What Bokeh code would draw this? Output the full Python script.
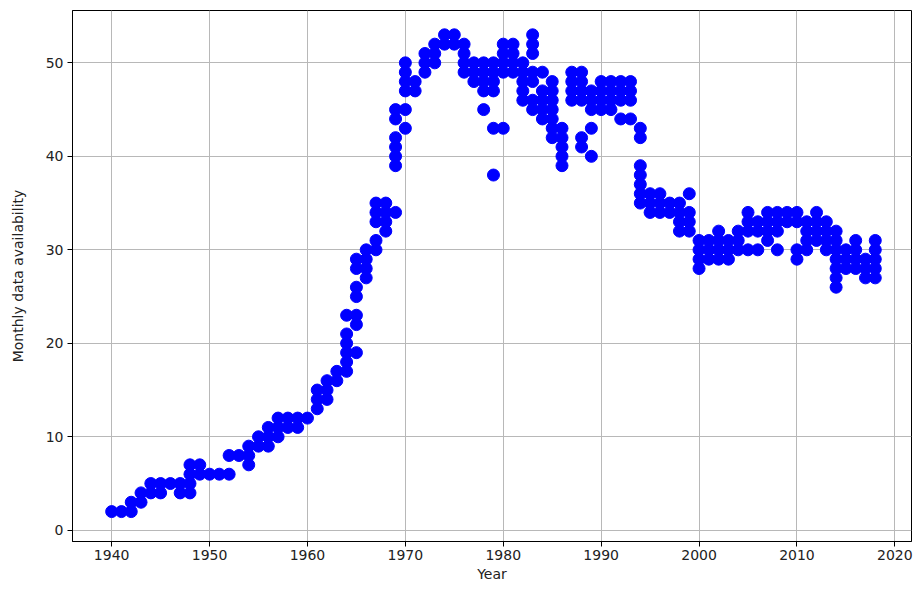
from bokeh.plotting import figure
from bokeh.models import FixedTicker, ColumnDataSource, Range1d
from bokeh.embed import file_html
from bokeh.resources import INLINE

years = [1940, 1941, 1942, 1943, 1944, 1945, 1946, 1947, 1948, 1949,
         1950, 1951, 1952, 1953, 1954, 1955, 1956, 1957, 1958, 1959,
         1960, 1961, 1962, 1963, 1964, 1965, 1966, 1967, 1968, 1969,
         1970, 1971, 1972, 1973, 1974, 1975, 1976, 1977, 1978, 1979,
         1980, 1981, 1982, 1983, 1984, 1985, 1986, 1987, 1988, 1989,
         1990, 1991, 1992, 1993, 1994, 1995, 1996, 1997, 1998, 1999,
         2000, 2001, 2002, 2003, 2004, 2005, 2006, 2007, 2008, 2009,
         2010, 2011, 2012, 2013, 2014, 2015, 2016, 2017, 2018]

values_by_year = [
    [2], [2], [2, 3], [3, 4], [4, 5], [4, 5], [5], [4, 5], [4, 5, 6, 7], [6, 7],
    [6], [6], [6, 8], [8], [7, 8, 9], [9, 10], [9, 10, 11], [10, 11, 12], [11, 12], [11, 12],
    [12], [13, 14, 15], [14, 15, 16], [16, 17], [17, 18, 19, 20, 21, 23],
    [19, 22, 23, 25, 26, 28, 29], [27, 28, 29, 30], [30, 31, 33, 34, 35], [32, 33, 34, 35],
    [34, 39, 40, 41, 42, 44, 45],
    [43, 45, 47, 48, 49, 50], [47, 48], [49, 50, 51], [50, 51, 52], [52, 53], [52, 53],
    [49, 50, 51, 52], [48, 49, 50], [45, 47, 48, 49, 50], [38, 43, 47, 48, 49, 50],
    [43, 49, 50, 51, 52], [49, 50, 51, 52], [46, 47, 48, 49, 50],
    [45, 46, 48, 49, 51, 52, 53], [44, 45, 46, 47, 49], [42, 43, 44, 45, 46, 47, 48],
    [39, 40, 41, 42, 43], [46, 47, 48, 49], [41, 42, 46, 47, 48, 49], [40, 43, 45, 46, 47],
    [45, 46, 47, 48], [45, 46, 47, 48], [44, 46, 47, 48], [44, 46, 47, 48],
    [35, 36, 37, 38, 39, 42, 43], [34, 35, 36], [34, 35, 36], [34, 35], [32, 33, 34, 35],
    [32, 33, 34, 36],
    [28, 29, 30, 31], [29, 30, 31], [29, 30, 31, 32], [29, 30, 31], [30, 31, 32],
    [30, 32, 33, 34], [30, 32, 33], [31, 32, 33, 34], [30, 32, 33, 34], [33, 34],
    [29, 30, 33, 34], [30, 31, 32, 33], [31, 32, 33, 34], [30, 31, 32, 33],
    [26, 27, 28, 29, 30, 31, 32], [28, 29, 30], [28, 29, 30, 31], [27, 28, 29],
    [27, 28, 29, 30, 31],
]

x_ticks = [1940, 1950, 1960, 1970, 1980, 1990, 2000, 2010, 2020]
y_ticks = [0, 10, 20, 30, 40, 50]

xs, ys = [], []
for yr, vals in zip(years, values_by_year):
    for v in vals:
        xs.append(yr)
        ys.append(v)
src = ColumnDataSource(dict(x=xs, y=ys))

FONT = "DejaVu Sans"
p = figure(width=913, height=584, output_backend="svg", toolbar_location=None,
           x_range=Range1d(1936.0, 2021.7), y_range=Range1d(-1.2, 55.6),
           min_border_left=72, min_border_right=2, min_border_top=10, min_border_bottom=30)
p.scatter("x", "y", source=src, size=12, fill_color="#0000ff", line_color="#0000ff")

p.xaxis.ticker = FixedTicker(ticks=x_ticks)
p.yaxis.ticker = FixedTicker(ticks=y_ticks)
p.xaxis.axis_label = "Year"
p.yaxis.axis_label = "Monthly data availability"
for ax in (p.xaxis, p.yaxis):
    ax.axis_label_text_font = FONT
    ax.axis_label_text_font_style = "normal"
    ax.axis_label_text_font_size = "14px"
    ax.major_label_text_font = FONT
    ax.major_label_text_font_size = "14px"
    ax.major_label_text_color = "#222222"
    ax.axis_label_text_color = "#222222"
    ax.major_tick_in = 0
    ax.major_tick_out = 5
    ax.minor_tick_line_color = None
    ax.axis_line_color = "black"
    ax.major_tick_line_color = "black"
p.xaxis.axis_label_standoff = 3
p.yaxis.axis_label_standoff = 17
p.xaxis.major_label_standoff = 3
p.yaxis.major_label_standoff = 4

p.grid.grid_line_color = "#b8b8b8"
p.grid.grid_line_width = 1
p.outline_line_color = "black"
p.outline_line_width = 1
p.background_fill_color = "white"
p.border_fill_color = "white"

open("out.html", "w").write(file_html(p, INLINE))
